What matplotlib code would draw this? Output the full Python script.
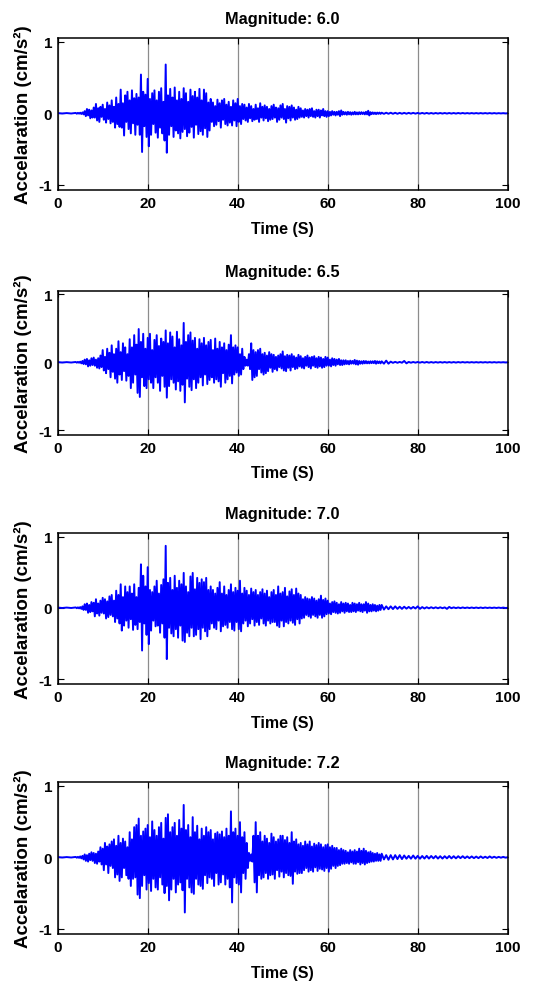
"""Synthetic accelerograms for four earthquake magnitudes, stacked vertically."""

from __future__ import annotations

import matplotlib

matplotlib.use("Agg")
import matplotlib.pyplot as plt
import numpy as np

# Sample times (s): quiet lead-in, dense strong-motion part, sparser coda
time_s = np.concatenate(
    [np.arange(0, 4, 1.0), np.linspace(4, 72, 273), np.linspace(72.5, 100, 56)]
)

magnitude_labels = ["6.0", "6.5", "7.0", "7.2"]

# Signed peaks (one row = 2 s in the dense part)
accel_m60 = [
    0.003, -0.003, 0.003, -0.003,
    0.005, -0.006, 0.006, -0.005, 0.008, -0.01, 0.012, -0.015,
    0.03, -0.04, 0.06, -0.03, 0.05, -0.07, 0.04, -0.06,
    0.08, -0.06, 0.13, -0.10, 0.07, -0.12, 0.09, -0.05,
    0.12, -0.09, 0.06, -0.13, 0.15, -0.08, 0.11, -0.14,
    0.18, -0.12, 0.09, -0.20, 0.22, -0.15, 0.13, -0.19,
    0.33, -0.20, 0.14, -0.31, 0.25, -0.12, 0.30, -0.22,
    0.18, -0.28, 0.32, -0.14, 0.21, -0.30, 0.27, -0.16,
    0.22, -0.30, 0.54, -0.54, 0.30, -0.18, 0.26, -0.33,
    0.48, -0.46, 0.20, -0.30, 0.28, -0.15, 0.32, -0.27,
    0.18, -0.34, 0.30, -0.20, 0.35, -0.28, 0.16, -0.38,
    0.68, -0.55, 0.25, -0.30, 0.34, -0.18, 0.22, -0.33,
    0.36, -0.24, 0.18, -0.28, 0.30, -0.35, 0.20, -0.26,
    0.35, -0.22, 0.28, -0.32, 0.16, -0.27, 0.33, -0.19,
    0.24, -0.34, 0.30, -0.16, 0.22, -0.29, 0.34, -0.25,
    0.18, -0.30, 0.33, -0.21, 0.28, -0.33, 0.15, -0.24,
    0.20, -0.12, 0.15, -0.18, 0.10, -0.16, 0.19, -0.11,
    0.14, -0.20, 0.18, -0.09, 0.20, -0.15, 0.12, -0.17,
    0.16, -0.13, 0.09, -0.17, 0.18, -0.10, 0.14, -0.18,
    0.20, -0.12, 0.10, -0.15, 0.13, -0.08, 0.12, -0.10,
    0.08, -0.12, 0.13, -0.07, 0.10, -0.11, 0.06, -0.09,
    0.12, -0.08, 0.07, -0.12, 0.14, -0.06, 0.09, -0.10,
    0.11, -0.07, 0.09, -0.11, 0.06, -0.09, 0.10, -0.08,
    0.12, -0.06, 0.08, -0.12, 0.07, -0.09, 0.11, -0.06,
    0.13, -0.08, 0.06, -0.13, 0.10, -0.07, 0.09, -0.10,
    0.11, -0.06, 0.08, -0.09, 0.05, -0.08, 0.09, -0.06,
    0.07, -0.05, 0.04, -0.06, 0.06, -0.04, 0.05, -0.06,
    0.06, -0.04, 0.07, -0.05, 0.03, -0.06, 0.05, -0.04,
    0.05, -0.06, 0.04, -0.03, 0.06, -0.04, 0.03, -0.05,
    0.03, -0.04, 0.02, -0.03, 0.03, -0.02, 0.02, -0.03,
    0.02, -0.02, 0.03, -0.04, 0.04, -0.02, 0.02, -0.015,
    0.015, -0.02, 0.02, -0.015, 0.015, -0.02, 0.012, -0.015,
    0.02, -0.015, 0.012, -0.015, 0.015, -0.012, 0.015, -0.01,
    0.012, -0.015, 0.02, -0.015, 0.035, -0.03, 0.015, -0.012,
    0.012, -0.01, 0.01, -0.012, 0.01, -0.008, 0.01, -0.008,
    0.008,
    -0.008, 0.008, -0.007, 0.008, -0.007, 0.007, -0.007, 0.006,
    -0.006, 0.006, -0.006, 0.006, -0.005, 0.006, -0.005, 0.005,
    -0.005, 0.005, -0.005, 0.005, -0.005, 0.004, -0.005, 0.004,
    -0.004, 0.004, -0.004, 0.004, -0.004, 0.004, -0.004, 0.004,
    -0.004, 0.004, -0.003, 0.004, -0.003, 0.003, -0.003, 0.003,
    -0.003, 0.003, -0.003, 0.003, -0.003, 0.003, -0.003, 0.003,
    -0.003, 0.003, -0.003, 0.002, -0.002, 0.002, -0.002, 0.0,
]

accel_m65 = [
    0.003, -0.003, 0.003, -0.003,
    0.005, -0.005, 0.006, -0.006, 0.01, -0.015, 0.02, -0.025,
    0.04, -0.03, 0.05, -0.06, 0.03, -0.05, 0.06, -0.04,
    0.07, -0.05, 0.04, -0.08, 0.06, -0.09, 0.10, -0.07,
    0.18, -0.12, 0.08, -0.16, 0.20, -0.10, 0.14, -0.22,
    0.25, -0.14, 0.12, -0.24, 0.20, -0.30, 0.31, -0.18,
    0.15, -0.26, 0.28, -0.13, 0.22, -0.27, 0.12, -0.20,
    0.34, -0.38, 0.22, -0.30, 0.40, -0.18, 0.26, -0.45,
    0.49, -0.51, 0.30, -0.22, 0.42, -0.35, 0.20, -0.38,
    0.36, -0.25, 0.42, -0.30, 0.18, -0.38, 0.33, -0.22,
    0.40, -0.30, 0.24, -0.42, 0.35, -0.20, 0.30, -0.36,
    0.47, -0.52, 0.28, -0.35, 0.44, -0.25, 0.38, -0.30,
    0.22, -0.40, 0.45, -0.28, 0.34, -0.42, 0.25, -0.33,
    0.58, -0.59, 0.30, -0.24, 0.40, -0.36, 0.44, -0.41,
    0.32, -0.25, 0.36, -0.38, 0.20, -0.30, 0.34, -0.22,
    0.28, -0.34, 0.36, -0.18, 0.25, -0.32, 0.30, -0.26,
    0.33, -0.22, 0.18, -0.30, 0.35, -0.25, 0.20, -0.28,
    0.30, -0.36, 0.22, -0.16, 0.28, -0.30, 0.18, -0.25,
    0.26, -0.20, 0.40, -0.31, 0.22, -0.18, 0.25, -0.15,
    0.22, -0.20, 0.12, -0.18, 0.20, -0.10, 0.08, -0.05,
    0.04, -0.05, 0.12, -0.10, 0.28, -0.26, 0.18, -0.22,
    0.15, -0.20, 0.18, -0.10, 0.20, -0.15, 0.12, -0.18,
    0.14, -0.16, 0.10, -0.13, 0.15, -0.08, 0.12, -0.14,
    0.11, -0.10, 0.08, -0.12, 0.10, -0.07, 0.12, -0.09,
    0.16, -0.12, 0.09, -0.13, 0.11, -0.08, 0.10, -0.12,
    0.12, -0.07, 0.09, -0.10, 0.07, -0.09, 0.11, -0.06,
    0.09, -0.08, 0.06, -0.09, 0.08, -0.05, 0.10, -0.07,
    0.07, -0.09, 0.08, -0.05, 0.09, -0.07, 0.06, -0.08,
    0.08, -0.06, 0.07, -0.08, 0.05, -0.07, 0.08, -0.05,
    0.07, -0.05, 0.04, -0.06, 0.06, -0.04, 0.05, -0.05,
    0.04, -0.03, 0.05, -0.04, 0.03, -0.04, 0.03, -0.03,
    0.03, -0.025, 0.02, -0.03, 0.025, -0.02, 0.02, -0.02,
    0.035, -0.03, 0.025, -0.035, 0.02, -0.02, 0.015, -0.02,
    0.02, -0.015, 0.018, -0.015, 0.012, -0.015, 0.015, -0.012,
    0.015, -0.012, 0.02, -0.02, 0.015, -0.012, 0.012, -0.015,
    0.015,
    -0.02, 0.025, -0.02, 0.01, -0.008, 0.007, -0.007, 0.006,
    -0.006, 0.02, -0.015, 0.006, -0.006, 0.005, -0.005, 0.005,
    -0.005, 0.005, -0.005, 0.005, -0.005, 0.004, -0.005, 0.004,
    -0.004, 0.004, -0.004, 0.004, -0.004, 0.004, -0.004, 0.004,
    -0.004, 0.004, -0.003, 0.004, -0.003, 0.003, -0.003, 0.003,
    -0.003, 0.003, -0.003, 0.003, -0.003, 0.003, -0.003, 0.003,
    -0.003, 0.003, -0.003, 0.002, -0.002, 0.002, -0.002, 0.0,
]

accel_m70 = [
    0.003, -0.003, 0.003, -0.003,
    0.005, -0.006, 0.006, -0.008, 0.01, -0.015, 0.02, -0.03,
    0.05, -0.03, 0.06, -0.07, 0.04, -0.06, 0.08, -0.05,
    0.07, -0.12, 0.12, -0.08, 0.06, -0.11, 0.10, -0.07,
    0.14, -0.08, 0.12, -0.15, 0.09, -0.13, 0.16, -0.10,
    0.18, -0.12, 0.10, -0.20, 0.24, -0.15, 0.18, -0.22,
    0.33, -0.32, 0.15, -0.25, 0.30, -0.18, 0.22, -0.28,
    0.30, -0.16, 0.20, -0.31, 0.33, -0.24, 0.15, -0.30,
    0.28, -0.20, 0.61, -0.60, 0.45, -0.22, 0.30, -0.38,
    0.57, -0.51, 0.25, -0.32, 0.22, -0.18, 0.30, -0.26,
    0.38, -0.25, 0.20, -0.35, 0.32, -0.22, 0.40, -0.42,
    0.87, -0.72, 0.35, -0.28, 0.42, -0.36, 0.25, -0.40,
    0.45, -0.30, 0.28, -0.42, 0.38, -0.25, 0.33, -0.46,
    0.49, -0.48, 0.30, -0.35, 0.22, -0.40, 0.44, -0.28,
    0.49, -0.40, 0.26, -0.38, 0.42, -0.30, 0.35, -0.44,
    0.40, -0.28, 0.36, -0.33, 0.42, -0.40, 0.25, -0.30,
    0.30, -0.22, 0.25, -0.28, 0.20, -0.30, 0.28, -0.18,
    0.36, -0.33, 0.20, -0.26, 0.30, -0.24, 0.18, -0.28,
    0.25, -0.20, 0.33, -0.30, 0.22, -0.32, 0.28, -0.20,
    0.24, -0.30, 0.38, -0.33, 0.20, -0.22, 0.28, -0.18,
    0.24, -0.26, 0.18, -0.22, 0.27, -0.16, 0.22, -0.25,
    0.25, -0.20, 0.18, -0.24, 0.22, -0.15, 0.26, -0.22,
    0.20, -0.25, 0.24, -0.18, 0.15, -0.22, 0.22, -0.20,
    0.25, -0.20, 0.18, -0.25, 0.30, -0.27, 0.20, -0.18,
    0.22, -0.26, 0.28, -0.20, 0.16, -0.22, 0.23, -0.18,
    0.26, -0.21, 0.18, -0.24, 0.27, -0.16, 0.20, -0.22,
    0.18, -0.15, 0.12, -0.14, 0.15, -0.10, 0.13, -0.12,
    0.12, -0.14, 0.15, -0.10, 0.13, -0.12, 0.10, -0.14,
    0.12, -0.10, 0.17, -0.14, 0.11, -0.12, 0.13, -0.09,
    0.10, -0.08, 0.06, -0.09, 0.08, -0.06, 0.09, -0.07,
    0.07, -0.08, 0.05, -0.07, 0.08, -0.05, 0.06, -0.07,
    0.07, -0.05, 0.06, -0.06, 0.04, -0.06, 0.07, -0.05,
    0.06, -0.06, 0.05, -0.04, 0.07, -0.05, 0.05, -0.06,
    0.05, -0.04, 0.08, -0.07, 0.06, -0.05, 0.04, -0.05,
    0.05, -0.04, 0.04, -0.05, 0.03, -0.04, 0.04, -0.03,
    0.04,
    -0.025, 0.02, -0.02, 0.02, -0.018, 0.02, -0.015, 0.015,
    -0.015, 0.015, -0.012, 0.012, -0.012, 0.012, -0.01, 0.02,
    -0.015, 0.01, -0.01, 0.008, -0.008, 0.008, -0.007, 0.007,
    -0.007, 0.007, -0.006, 0.006, -0.015, 0.012, -0.006, 0.006,
    -0.005, 0.005, -0.005, 0.005, -0.004, 0.004, -0.004, 0.004,
    -0.004, 0.004, -0.004, 0.004, -0.004, 0.004, -0.003, 0.003,
    -0.003, 0.003, -0.003, 0.003, -0.003, 0.003, -0.003, 0.0,
]

accel_m72 = [
    0.003, -0.003, 0.003, -0.003,
    0.005, -0.006, 0.006, -0.008, 0.012, -0.015, 0.02, -0.03,
    0.04, -0.05, 0.03, -0.06, 0.05, -0.04, 0.07, -0.05,
    0.06, -0.08, 0.05, -0.09, 0.08, -0.06, 0.14, -0.10,
    0.12, -0.18, 0.20, -0.10, 0.15, -0.22, 0.18, -0.12,
    0.22, -0.15, 0.25, -0.28, 0.16, -0.24, 0.30, -0.33,
    0.20, -0.28, 0.26, -0.15, 0.22, -0.25, 0.14, -0.30,
    0.35, -0.40, 0.25, -0.30, 0.42, -0.28, 0.45, -0.52,
    0.54, -0.57, 0.30, -0.40, 0.36, -0.25, 0.40, -0.45,
    0.45, -0.36, 0.28, -0.47, 0.50, -0.30, 0.38, -0.42,
    0.30, -0.45, 0.42, -0.28, 0.48, -0.38, 0.26, -0.50,
    0.55, -0.40, 0.60, -0.60, 0.35, -0.45, 0.42, -0.30,
    0.48, -0.49, 0.30, -0.38, 0.52, -0.35, 0.40, -0.46,
    0.73, -0.77, 0.38, -0.30, 0.45, -0.42, 0.28, -0.49,
    0.56, -0.51, 0.35, -0.30, 0.44, -0.38, 0.25, -0.40,
    0.40, -0.44, 0.30, -0.25, 0.42, -0.36, 0.35, -0.28,
    0.38, -0.30, 0.25, -0.40, 0.33, -0.22, 0.35, -0.38,
    0.32, -0.35, 0.36, -0.24, 0.28, -0.38, 0.40, -0.30,
    0.30, -0.42, 0.64, -0.63, 0.35, -0.28, 0.40, -0.36,
    0.30, -0.38, 0.49, -0.49, 0.28, -0.22, 0.35, -0.30,
    0.20, -0.15, 0.06, -0.05, 0.04, -0.06, 0.30, -0.35,
    0.49, -0.49, 0.30, -0.25, 0.35, -0.30, 0.22, -0.28,
    0.30, -0.22, 0.26, -0.30, 0.20, -0.25, 0.33, -0.24,
    0.28, -0.30, 0.22, -0.18, 0.25, -0.27, 0.30, -0.20,
    0.30, -0.28, 0.24, -0.22, 0.28, -0.25, 0.20, -0.26,
    0.35, -0.37, 0.22, -0.20, 0.25, -0.23, 0.18, -0.22,
    0.20, -0.22, 0.16, -0.18, 0.22, -0.15, 0.18, -0.20,
    0.22, -0.18, 0.15, -0.20, 0.19, -0.14, 0.17, -0.19,
    0.20, -0.16, 0.18, -0.17, 0.14, -0.19, 0.17, -0.15,
    0.18, -0.20, 0.14, -0.16, 0.16, -0.12, 0.13, -0.15,
    0.13, -0.12, 0.10, -0.11, 0.12, -0.09, 0.10, -0.09,
    0.09, -0.08, 0.07, -0.09, 0.10, -0.07, 0.08, -0.09,
    0.10, -0.09, 0.08, -0.07, 0.12, -0.10, 0.09, -0.08,
    0.12, -0.10, 0.09, -0.08, 0.07, -0.07, 0.08, -0.06,
    0.06, -0.06, 0.05, -0.05, 0.06, -0.05, 0.04, -0.05,
    0.05,
    -0.03, 0.03, -0.035, 0.03, -0.03, 0.03, -0.025, 0.03,
    -0.025, 0.025, -0.02, 0.02, -0.02, 0.025, -0.02, 0.02,
    -0.02, 0.018, -0.018, 0.02, -0.018, 0.018, -0.015, 0.018,
    -0.018, 0.015, -0.018, 0.015, -0.015, 0.018, -0.015, 0.015,
    -0.015, 0.015, -0.012, 0.015, -0.012, 0.012, -0.012, 0.012,
    -0.012, 0.01, -0.012, 0.012, -0.01, 0.008, -0.01, 0.012,
    -0.008, 0.008, -0.008, 0.006, -0.006, 0.006, -0.005, 0.0,
]

x_ticks = [0, 20, 40, 60, 80, 100]
y_ticks = [-1, 0, 1]


def _style_axis(ax: plt.Axes, magnitude: str) -> None:
    ax.set_xlim(0, 100)
    ax.set_ylim(-1.07, 1.05)
    ax.set_xticks(x_ticks)
    ax.set_yticks(y_ticks)
    ax.tick_params(
        direction="in", top=True, right=True, length=4, width=0.8,
        labelsize=11, pad=4,
    )
    for label in ax.get_xticklabels() + ax.get_yticklabels():
        label.set_fontweight("bold")
    ax.grid(axis="x", color="#8c8c8c", linewidth=0.9)
    ax.set_axisbelow(True)
    for spine in ax.spines.values():
        spine.set_linewidth(1.1)

    ax.set_title(f"Magnitude: {magnitude}", fontsize=11.8, fontweight="bold", pad=11)
    ax.set_xlabel("Time (S)", fontsize=11.5, fontweight="bold")
    ax.xaxis.set_label_coords(0.5, -0.205, transform=ax.transAxes)
    ax.xaxis.label.set_verticalalignment("top")
    ax.set_ylabel("Accelaration (cm/s²)", fontsize=13.5, fontweight="bold")
    ax.yaxis.set_label_coords(-0.057, 0.5, transform=ax.transAxes)


def build_figure() -> None:
    plt.rcParams["font.family"] = ["Liberation Sans", "DejaVu Sans"]
    plt.rcParams["axes.unicode_minus"] = False
    fig = plt.figure(figsize=(5.35, 9.87), dpi=100)

    boxes_px = [(39, 191), (292, 436), (534, 685), (783, 935)]
    series = [accel_m60, accel_m65, accel_m70, accel_m72]

    left = 57.7 / 535
    width = 450 / 535
    for (top_px, bottom_px), accel, magnitude in zip(boxes_px, series, magnitude_labels):
        ax = fig.add_axes(
            (left, 1 - bottom_px / 987, width, (bottom_px - top_px) / 987)
        )
        ax.plot(time_s, accel, color="#0000ff", linewidth=1.4)
        _style_axis(ax, magnitude)

    fig.savefig("out.png", dpi=100)
    plt.close(fig)


if __name__ == "__main__":
    build_figure()
